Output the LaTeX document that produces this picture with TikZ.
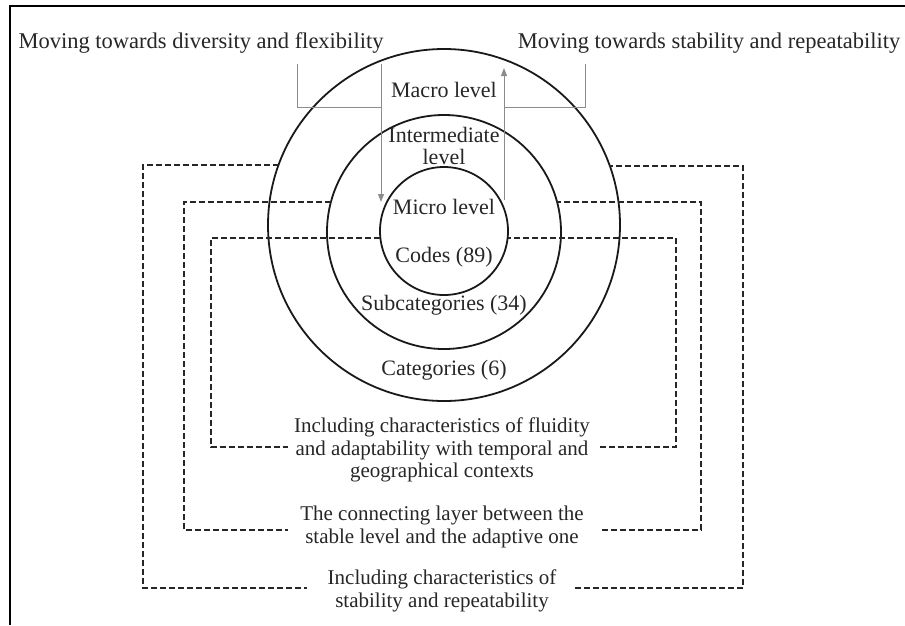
\documentclass[tikz,border=0pt]{standalone}
\usepackage{fontspec}
\setmainfont{Liberation Serif}
\usetikzlibrary{arrows.meta}
\begin{document}
\begin{tikzpicture}[x=1pt,y=-1pt,
  lbl/.style={inner sep=0pt, text=black!85, font=\fontsize{22}{22.5}\selectfont, align=center},
  ttl/.style={lbl, font=\fontsize{22.5}{22.5}\selectfont},
  note/.style={lbl, font=\fontsize{21}{22.5}\selectfont},
  ring/.style={circle, draw=black!90, line width=1.8pt, inner sep=0pt, outer sep=0pt},
  dsh/.style={draw=black!85, line width=1.6pt, dash pattern=on 6pt off 3pt},
  gry/.style={draw=black!45, line width=1pt},
  garrow/.style={gry, -{Triangle[width=6pt,length=8pt]}},
  frm/.style={draw=black, line width=1.5pt}
]
\useasboundingbox (0,0) rectangle (905,625);
% partial frame
\coordinate (f1) at (10,625);
\coordinate (f2) at (10,6);
\coordinate (f3) at (905,6);
\draw[frm] (f1) -- (f2) -- (f3);

% rings
\node[ring, minimum size=352pt] (outer) at (444,225) {};
\node[ring, minimum size=234pt] (mid) at (444,232) {};
\node[ring, minimum size=128pt] (inner) at (444,231) {};

% titles
\node[ttl] (ttl1) at (201,43) {Moving towards diversity and flexibility};
\node[ttl] (ttl2) at (709,43) {Moving towards stability and repeatability};

% ring labels
\node[lbl] (macro) at (444,90) {Macro level};
\node[lbl] (interm) at (444,146) {Intermediate\\level};
\node[lbl] (micro) at (444,207) {Micro level};
\node[lbl] (codes) at (444,257) {Codes (89)};
\node[lbl] (subc) at (444,305) {Subcategories (34)};
\node[lbl] (cats) at (444,370) {Categories (6)};

% frame labels
\node[note] (tin) at (442,450) {Including characteristics of fluidity\\and adaptability with temporal and\\geographical contexts};
\node[note] (tmid) at (442,527) {The connecting layer between the\\stable level and the adaptive one};
\node[note] (tout) at (442,591) {Including characteristics of\\stability and repeatability};

% gray brackets and arrows
\coordinate (bl1) at (297,64);
\coordinate (bl2) at (297,107);
\coordinate (bl3) at (381,107);
\coordinate (dA) at (381,64);
\coordinate (dB) at (381,202);
\draw[gry] (bl1) -- (bl2) -- (bl3);
\draw[garrow] (dA) -- (dB);
\coordinate (uA) at (504,200);
\coordinate (uB) at (504,68);
\draw[garrow] (uA) -- (uB);
\coordinate (br1) at (504,107);
\coordinate (br2) at (585,107);
\coordinate (br3) at (585,64);
\draw[gry] (br1) -- (br2) -- (br3);

% outer dashed frame
\coordinate (o1) at (143,165);
\coordinate (o2) at (143,588);
\coordinate (o3) at (307,588);
\coordinate (o4) at (575,588);
\coordinate (o5) at (743,588);
\coordinate (o6) at (743,166);
\draw[dsh] (o1 -| outer.160) -- (o1) -- (o2) -- (o3);
\draw[dsh] (o4) -- (o5) -- (o6) -- (o6 -| outer.20);

% middle dashed frame
\coordinate (m1) at (184,202);
\coordinate (m2) at (184,530);
\coordinate (m3) at (288,530);
\coordinate (m4) at (602,530);
\coordinate (m5) at (701,530);
\coordinate (m6) at (701,202);
\draw[dsh] (m1 -| mid.165) -- (m1) -- (m2) -- (m3);
\draw[dsh] (m4) -- (m5) -- (m6) -- (m6 -| mid.15);

% inner dashed frame
\coordinate (i1) at (211,238);
\coordinate (i2) at (211,447);
\coordinate (i3) at (288,447);
\coordinate (i4) at (600,447);
\coordinate (i5) at (676,447);
\coordinate (i6) at (676,238);
\draw[dsh] (i1 -| inner.186) -- (i1) -- (i2) -- (i3);
\draw[dsh] (i4) -- (i5) -- (i6) -- (i6 -| inner.-6);
\end{tikzpicture}
\end{document}
